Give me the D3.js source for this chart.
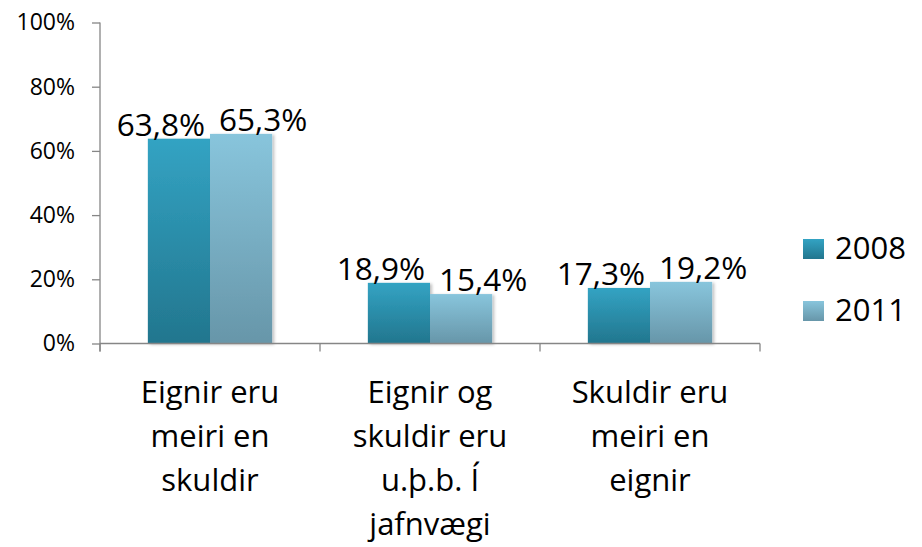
<!DOCTYPE html>
<html>
<head>
<meta charset="utf-8">
<script src="https://cdn.jsdelivr.net/npm/d3@7"></script>
<style>
  html, body { margin: 0; padding: 0; background: #fff; }
  svg { display: block; font-family: "Open Sans", sans-serif; }
</style>
</head>
<body>
<svg id="chart" width="922" height="547"></svg>
<script>
// ---- Data ----
const categories = [
  ["Eignir eru", "meiri en", "skuldir"],
  ["Eignir og", "skuldir eru", "u.þ.b. Í", "jafnvægi"],
  ["Skuldir eru", "meiri en", "eignir"]
];
const seriesNames = ["2008", "2011"];
const values2008 = [63.8, 18.9, 17.3];
const values2011 = [65.3, 15.4, 19.2];
const yTicks = [0, 20, 40, 60, 80, 100];

// ---- Layout ----
const FONT = "'Open Sans', sans-serif";
const svg = d3.select("#chart");
const plot = { left: 100, right: 760, top: 22.5, bottom: 343.5 };
const colors = [
  { top: "#33a3c3", bottom: "#22768e" },
  { top: "#88c5dc", bottom: "#6796a9" }
];
const labelShift = [-18, 22];

const defs = svg.append("defs");
colors.forEach((c, i) => {
  const g = defs.append("linearGradient").attr("id", "grad" + i)
    .attr("x1", 0).attr("y1", 0).attr("x2", 0).attr("y2", 1);
  g.append("stop").attr("offset", "0%").attr("stop-color", c.top);
  g.append("stop").attr("offset", "100%").attr("stop-color", c.bottom);
});
const shadow = defs.append("filter").attr("id", "shadow")
  .attr("x", "-10%").attr("y", "-10%").attr("width", "130%").attr("height", "130%");
shadow.append("feDropShadow").attr("dx", 2).attr("dy", 1).attr("stdDeviation", 1.5)
  .attr("flood-color", "#000").attr("flood-opacity", 0.25);

const x0 = d3.scaleBand().domain(d3.range(categories.length))
  .range([plot.left, plot.right]).paddingInner(0).paddingOuter(0);
const x1 = d3.scaleBand().domain(d3.range(seriesNames.length))
  .range([0, x0.bandwidth()]).paddingInner(0).paddingOuter(0.77);
const y = d3.scaleLinear().domain([0, 100]).range([plot.bottom, plot.top]);

const series = [values2008, values2011];

// Bars
series.forEach((vals, si) => {
  svg.append("g").selectAll("rect").data(vals).join("rect")
    .attr("x", (d, i) => x0(i) + x1(si))
    .attr("y", d => y(d))
    .attr("width", x1.bandwidth())
    .attr("height", d => y(0) - y(d))
    .attr("fill", `url(#grad${si})`)
    .attr("filter", "url(#shadow)");
});

// Y axis
const yAxis = d3.axisLeft(y).tickValues(yTicks).tickFormat(d => d + "%")
  .tickSize(8).tickPadding(17);
const yg = svg.append("g").attr("transform", `translate(${plot.left},0)`).call(yAxis);
yg.attr("font-size", null).attr("font-family", null);
yg.select(".domain").attr("stroke", "#868686").attr("stroke-width", 1.3)
  .attr("d", `M0,${plot.top}V${plot.bottom + 8}`);
yg.selectAll(".tick line").attr("stroke", "#868686").attr("stroke-width", 1.3);
yg.selectAll(".tick text").style("font-size", "23px").attr("fill", "#000")
  .style("font-family", FONT);

// X axis line + ticks
const xg = svg.append("g");
xg.append("line").attr("x1", plot.left).attr("x2", plot.right)
  .attr("y1", plot.bottom).attr("y2", plot.bottom)
  .attr("stroke", "#868686").attr("stroke-width", 1.3);
const xTickPos = d3.range(categories.length + 1).map(i => i < categories.length ? x0(i) : x0(i - 1) + x0.bandwidth());
xg.selectAll("line.t").data(xTickPos).join("line").attr("class", "t")
  .attr("x1", d => d).attr("x2", d => d)
  .attr("y1", plot.bottom).attr("y2", plot.bottom + 8)
  .attr("stroke", "#868686").attr("stroke-width", 1.3);

// Category labels
categories.forEach((lines, i) => {
  const t = svg.append("text").attr("text-anchor", "middle")
    .attr("font-size", 31).attr("fill", "#000")
    .attr("x", x0(i) + x0.bandwidth() / 2).attr("y", 403);
  lines.forEach((l, k) => {
    t.append("tspan").attr("x", x0(i) + x0.bandwidth() / 2)
      .attr("dy", k === 0 ? 0 : 44).text(l);
  });
});

// Data labels
const fmt = v => v.toFixed(1).replace(".", ",") + "%";
series.forEach((vals, si) => {
  svg.append("g").selectAll("text").data(vals).join("text")
    .attr("text-anchor", "middle")
    .attr("font-size", 31.5).attr("fill", "#000")
    .attr("x", (d, i) => x0(i) + x1(si) + x1.bandwidth() / 2 + labelShift[si])
    .attr("y", d => y(d) - 3)
    .text(d => fmt(d));
});

// Legend
const legend = svg.append("g").attr("transform", "translate(803,239)");
seriesNames.forEach((name, si) => {
  const g = legend.append("g").attr("transform", `translate(0,${si * 62})`);
  g.append("rect").attr("width", 21).attr("height", 20).attr("fill", `url(#grad${si})`);
  g.append("text").attr("x", 32).attr("y", 20).attr("font-size", 31).attr("fill", "#000").text(name);
});
</script>
</body>
</html>
